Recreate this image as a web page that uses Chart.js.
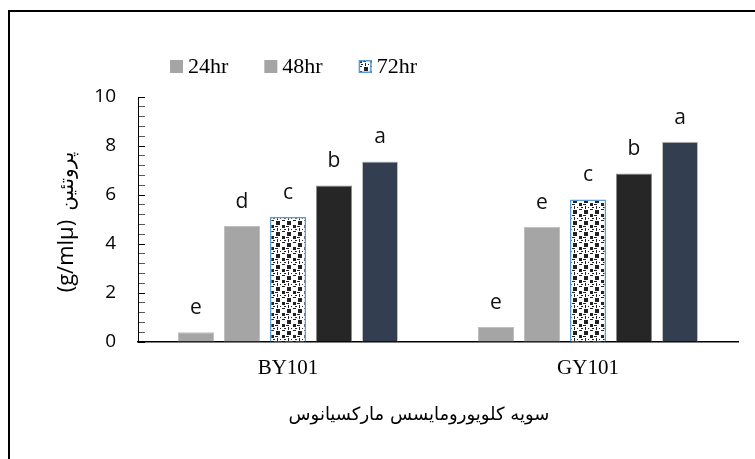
<!DOCTYPE html>
<html>
<head>
<meta charset="utf-8">
<script src="https://cdn.jsdelivr.net/npm/chart.js@4"></script>
<style>
  html, body { margin: 0; padding: 0; background: #fff; overflow: hidden; }
</style>
</head>
<body>
<canvas id="myChart" width="755" height="459"></canvas>
<script>
// data
const categories = ['BY101', 'GY101'];
const hr24 = [0.40, 0.61];
const hr48 = [4.73, 4.70];
const hr72 = [5.10, 5.82];
const series4 = [6.39, 6.88];
const series5 = [7.37, 8.17];
const letters24 = ['e', 'e'];
const letters48 = ['d', 'e'];
const letters72 = ['c', 'c'];
const letters4 = ['b', 'b'];
const letters5 = ['a', 'a'];
const yTickLabels = [0, 2, 4, 6, 8, 10];
const yTitle = '(g/mlµ)';
const yTitleFa = 'پروتئین';
const xTitle = 'سویه کلویورومایسس مارکسیانوس';

// confetti fill for the 72hr bars
const tile = document.createElement('canvas');
tile.width = 11; tile.height = 11;
const tc = tile.getContext('2d');
tc.fillStyle = '#fff'; tc.fillRect(0, 0, 11, 11);
tc.fillStyle = '#222';
tc.fillRect(1, 1, 4, 4);
tc.fillRect(7, 5, 3, 3);
tc.fillRect(2, 8, 1, 3);
tc.fillRect(7, 0, 3, 1);
tc.fillRect(0, 6, 3, 1);
tc.fillRect(9, 9, 2, 1);
tc.fillRect(5, 9, 1, 1);
const confetti = tc.createPattern(tile, 'repeat');

const letterSets = [letters24, letters48, letters72, letters4, letters5];

const extras = {
  id: 'extras',
  beforeDraw(chart) {
    const c = chart.ctx;
    c.save();
    c.fillStyle = '#000';
    c.fillRect(8, 10, 760, 2);
    c.fillRect(8, 10, 2, 460);
    c.restore();
  },
  afterDatasetsDraw(chart) {
    const c = chart.ctx;
    c.save();
    c.font = '21px "Open Sans"';
    c.fillStyle = '#111';
    c.textAlign = 'center';
    c.textBaseline = 'alphabetic';
    chart.data.datasets.forEach((ds, i) => {
      chart.getDatasetMeta(i).data.forEach((bar, j) => {
        c.fillText(letterSets[i][j], bar.x, bar.y - 18);
      });
    });
    c.restore();
  },
  afterDraw(chart) {
    const c = chart.ctx;
    c.save();
    // legend (only the named series)
    let x = 170;
    c.font = '22px "Liberation Serif"';
    c.textBaseline = 'middle';
    chart.data.datasets.forEach(ds => {
      if (!ds.label) return;
      c.fillStyle = ds.backgroundColor;
      c.fillRect(x, 60, 13, 13);
      if (ds.label === '72hr') {
        c.strokeStyle = ds.borderColor;
        c.lineWidth = 1.5;
        c.strokeRect(x + 0.75, 60.75, 11.5, 11.5);
      }
      c.fillStyle = '#000';
      c.textAlign = 'left';
      c.fillText(ds.label, x + 18, 67);
      x += 18 + c.measureText(ds.label).width + 36;
    });

    // y title, rotated
    c.translate(73, 222);
    c.rotate(-Math.PI / 2);
    const f1 = '22px "Open Sans"';
    const f2 = '20px "DejaVu Sans"';
    c.font = f1;
    const w1 = c.measureText(yTitle).width;
    c.font = f2;
    const w2 = c.measureText(yTitleFa).width;
    const total = w1 + 9 + w2;
    c.textAlign = 'left';
    c.textBaseline = 'alphabetic';
    c.font = f1;
    c.fillText(yTitle, -total / 2, 0);
    c.font = f2;
    c.fillText(yTitleFa, -total / 2 + w1 + 9, 0);
    c.setTransform(1, 0, 0, 1, 0, 0);

    // x title
    c.font = '18px "DejaVu Sans"';
    c.textAlign = 'center';
    c.textBaseline = 'middle';
    c.fillText(xTitle, 419, 415);
    c.restore();
  }
};

const barBase = { categoryPercentage: 0.7667, barPercentage: 0.7826, borderWidth: 1, borderColor: '#BFBFBF' };

new Chart(document.getElementById('myChart'), {
  type: 'bar',
  data: {
    labels: categories,
    datasets: [
      { ...barBase, label: '24hr', data: hr24, backgroundColor: '#A5A5A5' },
      { ...barBase, label: '48hr', data: hr48, backgroundColor: '#A5A5A5' },
      { ...barBase, label: '72hr', data: hr72, backgroundColor: confetti, borderColor: '#5B9BD5', borderWidth: 1.5 },
      { ...barBase, label: '', data: series4, backgroundColor: '#262626', borderColor: '#8C8C8C' },
      { ...barBase, label: '', data: series5, backgroundColor: '#333F50' }
    ]
  },
  options: {
    responsive: false,
    animation: false,
    devicePixelRatio: 1,
    layout: { padding: { top: 97, right: 17, left: 0, bottom: 0 } },
    plugins: {
      legend: { display: false },
      tooltip: { enabled: false }
    },
    scales: {
      x: {
        grid: { display: true, drawOnChartArea: false, drawTicks: false },
        border: { color: '#000', width: 1.5 },
        ticks: { font: { family: 'Liberation Serif', size: 21 }, color: '#000', padding: 14 },
        afterFit(s) { s.height = 117; }
      },
      y: {
        min: 0,
        max: 10,
        grid: {
          drawOnChartArea: false,
          drawTicks: true,
          tickLength: -7,
          tickColor: ctx => yTickLabels.some(v => Math.abs(v - ctx.tick.value) < 1e-6) ? '#000' : '#595959'
        },
        border: { color: '#000', width: 1 },
        ticks: {
          stepSize: 0.4,
          autoSkip: false,
          font: { family: 'Open Sans', size: 19 },
          color: '#000',
          padding: 29,
          callback: v => yTickLabels.some(t => Math.abs(t - v) < 1e-6) ? String(Math.round(v)) : ''
        },
        afterFit(s) { s.width = 138; }
      }
    }
  },
  plugins: [extras]
});
</script>
</body>
</html>
